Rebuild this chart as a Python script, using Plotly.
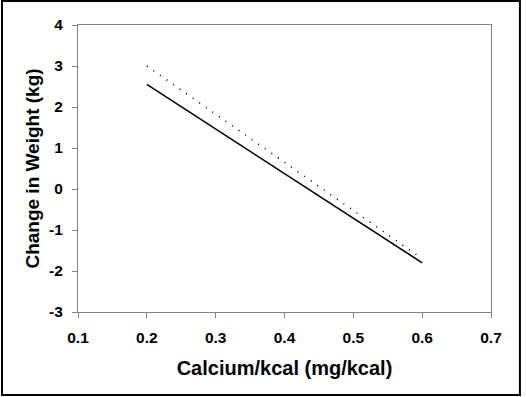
import plotly.graph_objects as go

calcium = [0.2, 0.6]
solid_vals = [2.55, -1.8]
dotted_vals = [3.0, -1.7]

x_ticks = [0.1, 0.2, 0.3, 0.4, 0.5, 0.6, 0.7]
y_ticks = [-3, -2, -1, 0, 1, 2, 3, 4]

fig = go.Figure()
fig.add_trace(go.Scatter(x=calcium, y=dotted_vals, mode="lines",
                         line=dict(color="black", width=1.6, dash="1px,7px"),
                         showlegend=False))
fig.add_trace(go.Scatter(x=calcium, y=solid_vals, mode="lines",
                         line=dict(color="black", width=1.6),
                         showlegend=False))

font_family = "Liberation Sans, Arial, sans-serif"
axis_common = dict(showgrid=False, zeroline=False, showline=True, linecolor="#808080",
                   linewidth=1, mirror=True, ticks="outside", ticklen=5, tickcolor="#808080",
                   tickfont=dict(family=font_family, size=15.5, color="black", weight="bold"))

fig.update_xaxes(range=[0.1, 0.7], tickvals=x_ticks, ticktext=[f"{v:.1f}" for v in x_ticks],
                 ticklabelstandoff=6,
                 title=dict(text="Calcium/kcal (mg/kcal)", standoff=16,
                            font=dict(family=font_family, size=20, color="black", weight="bold")),
                 **axis_common)
fig.update_yaxes(range=[-3, 4], tickvals=y_ticks, ticktext=[str(v) for v in y_ticks],
                 ticklabelstandoff=6,
                 title=dict(text="Change in Weight (kg)", standoff=4,
                            font=dict(family=font_family, size=19, color="black", weight="bold")),
                 **axis_common)

fig.add_shape(type="rect", xref="paper", yref="paper",
              x0=-0.184, x1=1.070, y0=-0.289, y1=1.084,
              line=dict(color="black", width=2))

fig.update_layout(width=526, height=397, margin=dict(l=78, r=35, t=25, b=85),
                  paper_bgcolor="white", plot_bgcolor="white")

fig.write_html("out.html", config={"displayModeBar": False})

with open("out.html", "r", encoding="utf-8") as f:
    html = f.read()
html = html.replace("<head>", "<head><style>html,body{margin:0;padding:0;overflow:hidden;}</style>", 1)
with open("out.html", "w", encoding="utf-8") as f:
    f.write(html)
